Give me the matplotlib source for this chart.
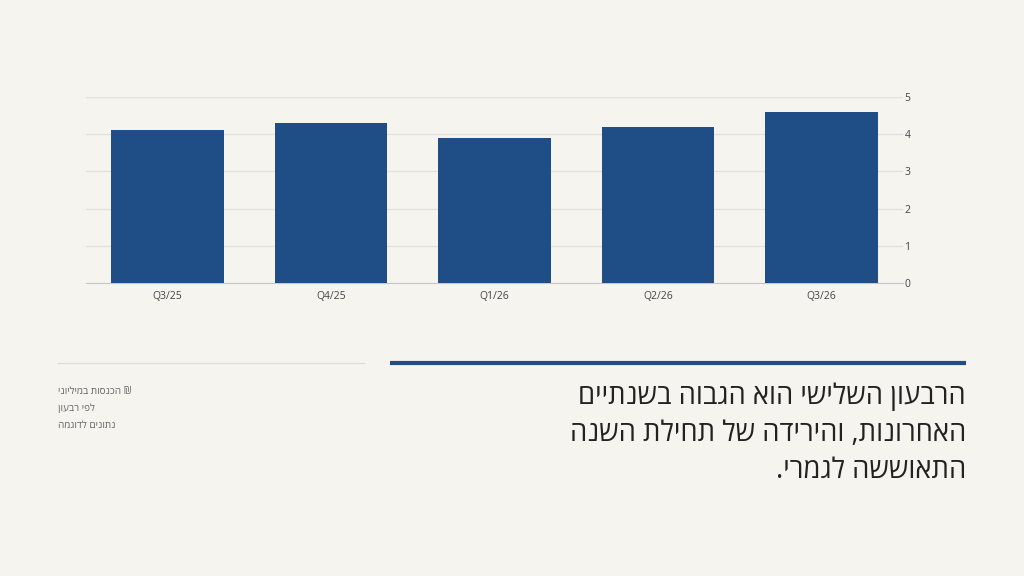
import re

import matplotlib.pyplot as plt

plt.rcParams['font.family'] = ['Open Sans', 'DejaVu Sans']

quarters = ['Q3/25', 'Q4/25', 'Q1/26', 'Q2/26', 'Q3/26']
revenue = [4.1, 4.3, 3.9, 4.2, 4.6]
y_ticks = [0, 1, 2, 3, 4, 5]

headline = [
    'הרבעון השלישי הוא הגבוה בשנתיים',
    'האחרונות, והירידה של תחילת השנה',
    'התאוששה לגמרי.',
]
notes = [
    'הכנסות במיליוני ₪',
    'לפי רבעון',
    'נתונים לדוגמה',
]

bg = '#f5f4ee'
blue = '#1f4e87'

HEB_RUN = re.compile(r'[\u0590-\u05FF]+(?:\s+[\u0590-\u05FF]+)*')


def rtl(s):
    # matplotlib has no bidi support, so flip the whole line by hand
    return s[::-1]


def ltr_with_hebrew(s):
    # left-to-right paragraph: only the hebrew runs get flipped
    return HEB_RUN.sub(lambda m: m.group(0)[::-1], s)


fig = plt.figure(figsize=(10.24, 5.76), dpi=100, facecolor=bg)

# chart area: x 86..903 px, y 97..283 px
ax = fig.add_axes([86 / 1024, 1 - 283 / 576, (903 - 86) / 1024, (283 - 97) / 576])
ax.set_facecolor(bg)
ax.bar(range(len(quarters)), revenue, width=0.69, color=blue, zorder=3)
ax.set_xlim(-0.5, len(quarters) - 0.5)
ax.set_ylim(0, 5)
ax.set_xticks(range(len(quarters)))
ax.set_xticklabels(quarters)
ax.set_yticks(y_ticks)
ax.yaxis.tick_right()
ax.grid(axis='y', color='#e2e1dc', linewidth=1, zorder=0)
for side in ['left', 'right', 'top']:
    ax.spines[side].set_visible(False)
ax.spines['bottom'].set_color('#c8c8cc')
ax.tick_params(axis='x', length=0, pad=6, labelsize=7.5, labelcolor='#444444')
ax.tick_params(axis='y', length=0, pad=1, labelsize=7.5, labelcolor='#444444')

# divider lines
fig.add_artist(plt.Line2D([58 / 1024, 364 / 1024], [1 - 363 / 576] * 2, color='#dcdbd6', linewidth=0.8))
fig.add_artist(plt.Line2D([390 / 1024, 966 / 1024], [1 - 363 / 576] * 2, color=blue, linewidth=3,
                          solid_capstyle='butt'))

# headline, right aligned
for i, line in enumerate(headline):
    fig.text(966 / 1024, 1 - (397 + i * 37) / 576, rtl(line), ha='right', va='center',
             fontsize=19.8, color='#222222')

# small notes on the left
for i, line in enumerate(notes):
    fig.text(58 / 1024, 1 - (392 + i * 16.5) / 576, ltr_with_hebrew(line), ha='left', va='center',
             fontsize=7.2, color='#666666')

fig.savefig('out.png', dpi=100, facecolor=bg)
